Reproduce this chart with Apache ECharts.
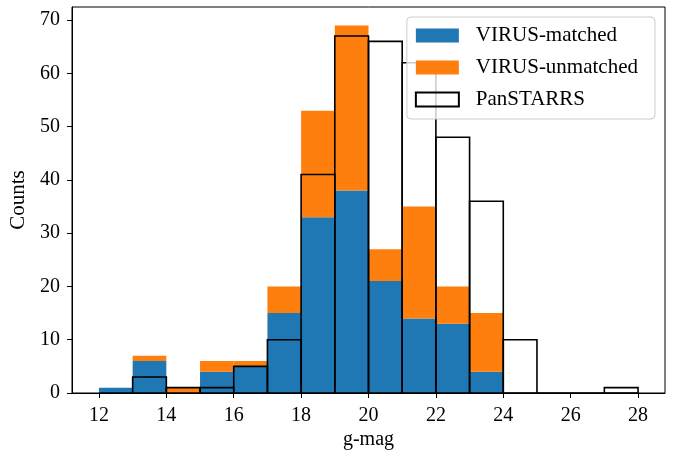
<!DOCTYPE html>
<html>
<head>
<meta charset="utf-8">
<script src="https://cdn.jsdelivr.net/npm/echarts@6/dist/echarts.min.js"></script>
<style>
html,body{margin:0;padding:0;background:#fff;}
#chart{width:673px;height:450px;}
</style>
</head>
<body>
<div id="chart"></div>
<script>
// Histogram bin edges (g-mag)
const binEdges = [12,13,14,15,16,17,18,19,20,21,22,23,24,25,26,27,28];
// Counts per bin
const virusMatched   = [1,6,0,4,5,15,33,38,21,14,13,4,0,0,0,0];
const virusUnmatched = [0,1,1,2,1,5,20,31,6,21,7,11,0,0,0,0];
const panstarrs      = [0,3,1,1,5,10,41,67,66,62,48,36,10,0,0,1];
// Tick labels
const xTicks = [12,14,16,18,20,22,24,26,28];
const yTicks = [0,10,20,30,40,50,60,70];

const FONT = '"Liberation Serif", "Times New Roman", serif';

const matchedData = virusMatched.map((v,i)=>[binEdges[i], binEdges[i+1], 0, v]);
const unmatchedData = virusUnmatched.map((v,i)=>[binEdges[i], binEdges[i+1], virusMatched[i], virusMatched[i]+v]);
const psData = panstarrs.map((v,i)=>[binEdges[i], binEdges[i+1], 0, v]);

function rectShape(api){
  const a = api.coord([api.value(0), api.value(3)]);
  const b = api.coord([api.value(1), api.value(2)]);
  return {x:a[0], y:a[1], width:b[0]-a[0], height:b[1]-a[1]};
}
function filled(params, api){
  return {type:'rect', shape: rectShape(api), style: api.style()};
}
function outlined(params, api){
  return {type:'rect', shape: rectShape(api), style: {fill:null, stroke:'#000', lineWidth:1.6}};
}

const chart = echarts.init(document.getElementById('chart'), null, {renderer:'canvas'});
chart.setOption({
  animation:false,
  grid:{left:72, right:8, top:7, bottom:57, show:true, borderColor:'#000', borderWidth:1,
        backgroundColor:'transparent', containLabel:false, outerBoundsMode:'none'},
  xAxis:{
    type:'value', min:11.2, max:28.8,
    name:'g-mag', nameLocation:'middle', nameGap:37, nameMoveOverlap:false,
    nameTextStyle:{fontFamily:FONT, fontSize:20, color:'#000'},
    axisLine:{show:true, lineStyle:{color:'#000', width:1}},
    axisTick:{show:true, inside:false, length:5, lineStyle:{color:'#000', width:1}, customValues:xTicks},
    axisLabel:{customValues:xTicks, margin:13, fontFamily:FONT, fontSize:20, color:'#000'},
    splitLine:{show:false}
  },
  yAxis:{
    type:'value', min:0, max:72.45,
    name:'Counts', nameLocation:'middle', nameGap:43, nameRotate:90, nameMoveOverlap:false,
    nameTextStyle:{fontFamily:FONT, fontSize:21, color:'#000'},
    axisLine:{show:true, lineStyle:{color:'#000', width:1}},
    axisTick:{show:true, inside:false, length:5, lineStyle:{color:'#000', width:1}, customValues:yTicks},
    axisLabel:{customValues:yTicks, margin:12, fontFamily:FONT, fontSize:20, color:'#000'},
    splitLine:{show:false}
  },
  legend:{
    orient:'vertical', right:18, top:17,
    selectedMode:false,
    icon:'rect', itemWidth:43, itemHeight:14, itemGap:11,
    padding:[8,17,9,8],
    backgroundColor:'rgba(255,255,255,0.8)', borderColor:'#cccccc', borderWidth:1, borderRadius:4,
    textStyle:{fontFamily:FONT, fontSize:21, color:'#000', padding:[0,0,0,12]},
    data:[
      {name:'VIRUS-matched', itemStyle:{color:'#1f77b4'}},
      {name:'VIRUS-unmatched', itemStyle:{color:'#ff7f0e'}},
      {name:'PanSTARRS', itemStyle:{color:'rgba(0,0,0,0)', borderColor:'#000', borderWidth:2}}
    ]
  },
  series:[
    {name:'VIRUS-matched', type:'custom', renderItem:filled, itemStyle:{color:'#1f77b4'},
     encode:{x:[0,1], y:[2,3]}, data:matchedData},
    {name:'VIRUS-unmatched', type:'custom', renderItem:filled, itemStyle:{color:'#ff7f0e'},
     encode:{x:[0,1], y:[2,3]}, data:unmatchedData},
    {name:'PanSTARRS', type:'custom', renderItem:outlined, itemStyle:{color:'rgba(0,0,0,0)', borderColor:'#000', borderWidth:2},
     encode:{x:[0,1], y:[2,3]}, data:psData}
  ]
});
</script>
</body>
</html>
